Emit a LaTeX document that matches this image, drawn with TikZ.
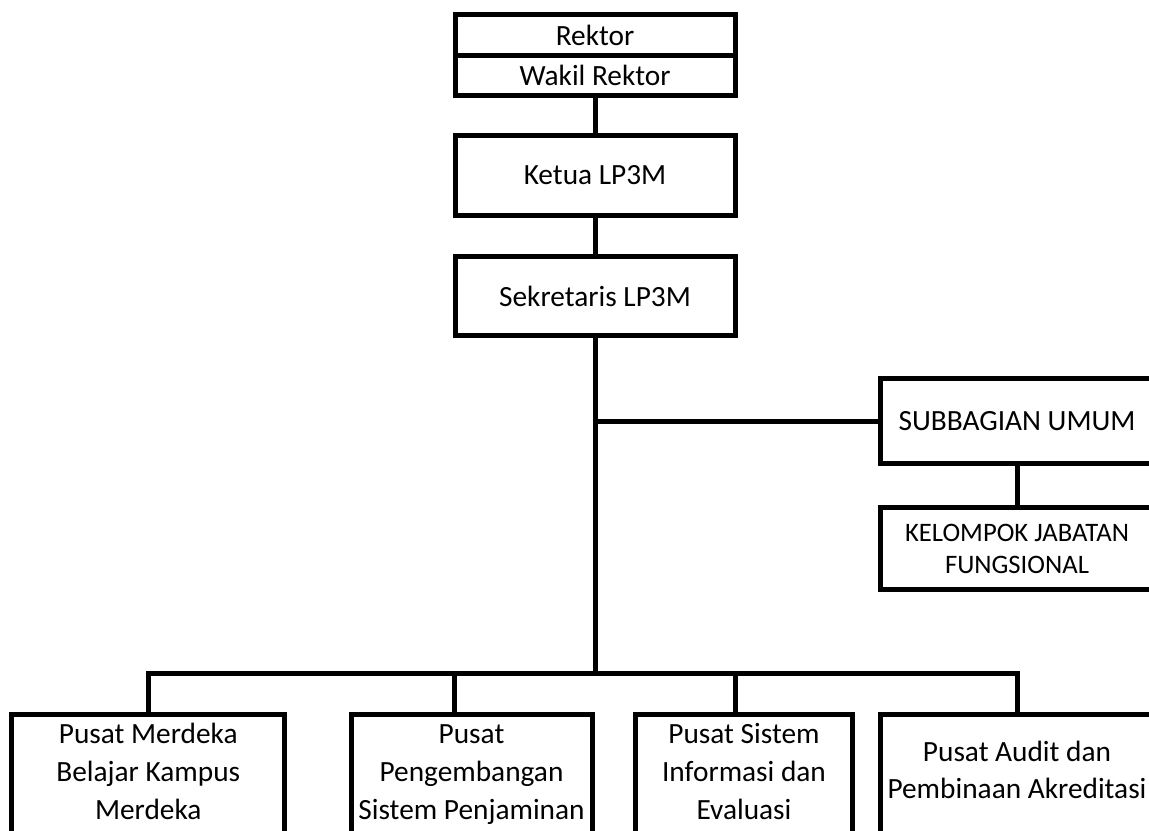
\documentclass[tikz,border=0pt]{standalone}
\usepackage{fontspec}
\setmainfont{Carlito}
\tikzset{
    unit/.style={draw, line width=3.75pt, outer sep=0pt, inner sep=0pt, align=center,
        font=\fontsize{22}{28}\selectfont},
    pusat/.style={unit, anchor=north, align=flush center, inner xsep=2pt, inner ysep=0pt, text depth=100pt,
        font=\fontsize{22}{28.5}\selectfont},
    garis/.style={line width=3.75pt}
}

\begin{document}
\begin{tikzpicture}[x=0.75pt,y=-0.75pt]
    \useasboundingbox (0,0) rectangle (1149,831);
    \clip (0,0) rectangle (1149,831);
    %Pimpinan
    \node[unit, minimum width=210pt, minimum height=30.75pt] (rektor) at (595,35) {Rektor};
    \node[unit, minimum width=210pt, minimum height=30pt] (wakil) at (595,75.5) {Wakil Rektor};
    \node[unit, minimum width=210pt, minimum height=60pt] (ketua) at (595,175.5) {Ketua LP3M};
    \node[unit, minimum width=210pt, minimum height=59.25pt] (sekretaris) at (595,296) {Sekretaris LP3M};
    \node[unit, minimum width=205.5pt, minimum height=63.4pt] (subbagian) at (1017,421) {SUBBAGIAN UMUM};
    \node[unit, minimum width=205.5pt, minimum height=61.5pt, font=\fontsize{20}{24}\selectfont]
        (kelompok) at (1017,548.5) {KELOMPOK JABATAN\\FUNGSIONAL};
    %Pusat-pusat
    \node[pusat, text width=201.1pt, text height=21.75pt] (pmbkm) at (148.25,714.5)
        {Pusat Merdeka\\Belajar Kampus\\Merdeka};
    \node[pusat, text width=176.75pt, text height=21.75pt] (ppsp) at (471.5,714.5)
        {Pusat\\Pengembangan\\Sistem Penjaminan};
    \node[pusat, text width=158.75pt, text height=21.75pt] (psie) at (744,714.5)
        {Pusat Sistem\\Informasi dan\\Evaluasi};
    \node[pusat, text width=201.5pt, text height=35.6pt, font=\fontsize{22}{27.4}\selectfont] (ppak) at (1017,714.5)
        {Pusat Audit dan\\Pembinaan Akreditasi};
    \coordinate (bus) at (595,673.5);
    \draw[garis] (wakil) -- (ketua);
    \draw[garis] (ketua) -- (sekretaris);
    \draw[garis] (sekretaris.south) -- (bus);
    \draw[garis] (sekretaris.south |- subbagian.west) -- (subbagian.west);
    \draw[garis] (subbagian) -- (kelompok);
    \draw[garis] (pmbkm.north) |- (bus) -| (ppak.north);
      \draw[garis] ([xshift=-12.4pt]ppsp.north) |- (bus);
      \draw[garis] ([xshift=-6.75pt]psie.north) |- (bus);
\end{tikzpicture}
\end{document}
